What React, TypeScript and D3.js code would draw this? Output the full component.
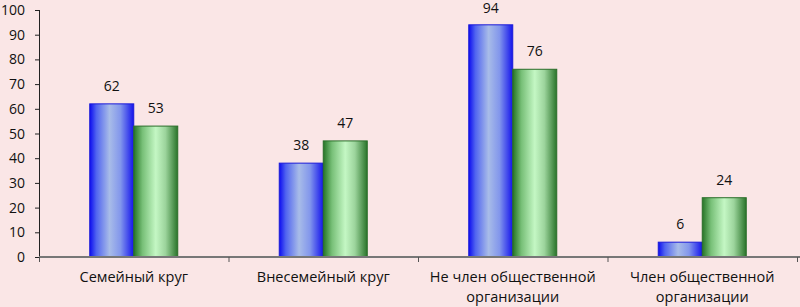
import React from "react";
import * as d3 from "d3";

const categories: string[][] = [
  ["Семейный круг"],
  ["Внесемейный круг"],
  ["Не член общественной", "организации"],
  ["Член общественной", "организации"],
];
const seriesA: number[] = [62, 38, 94, 6];
const seriesB: number[] = [53, 47, 76, 24];
const yTicks: number[] = [0, 10, 20, 30, 40, 50, 60, 70, 80, 90, 100];

const W = 800;
const H = 307;
const left = 39;
const right = 797;
const top = 10;
const bottom = 257;
const FONT = "'Open Sans', 'DejaVu Sans', sans-serif";
const FS = 14;

export default function App() {
  const idx = categories.map((_, i) => String(i));
  const x = d3.scaleBand<string>().domain(idx).range([left, right]).paddingInner(0).paddingOuter(0);
  const y = d3.scaleLinear().domain([0, 100]).range([bottom, top]);
  const barW = 44;
  const series = [
    { values: seriesA, grad: "gBlue", stroke: "#1a1ad8" },
    { values: seriesB, grad: "gGreen", stroke: "#2a6e2a" },
  ];
  return (
    <svg
      width={W}
      height={H}
      style={{ position: "absolute", left: 0, top: 0, display: "block" }}
    >
      <defs>
        <linearGradient id="gBlue" x1="0" x2="1" y1="0" y2="0">
          <stop offset="0" stopColor="#0c0cf0" />
          <stop offset="0.15" stopColor="#5064f0" />
          <stop offset="0.45" stopColor="#a8bce8" />
          <stop offset="0.7" stopColor="#8296ec" />
          <stop offset="1" stopColor="#1414ec" />
        </linearGradient>
        <linearGradient id="gGreen" x1="0" x2="1" y1="0" y2="0">
          <stop offset="0" stopColor="#267426" />
          <stop offset="0.2" stopColor="#78c078" />
          <stop offset="0.5" stopColor="#c4f7c4" />
          <stop offset="0.72" stopColor="#9cd49c" />
          <stop offset="1" stopColor="#2a742a" />
        </linearGradient>
      </defs>
      <rect x={0} y={0} width={W} height={H} fill="#fae6e6" />
      {/* y axis */}
      <line x1={left + 0.5} x2={left + 0.5} y1={top} y2={bottom + 5} stroke="#222" strokeWidth={1} />
      {yTicks.map((t) => (
        <g key={t}>
          <line x1={left - 4} x2={left} y1={y(t) + 0.5} y2={y(t) + 0.5} stroke="#222" />
          <text
            x={left - 14}
            y={y(t)}
            dy="0.36em"
            textAnchor="end"
            fontFamily={FONT}
            fontSize={FS}
            fill="#111"
          >
            {t}
          </text>
        </g>
      ))}
      {/* bars */}
      {categories.map((c, i) => {
        const cx = (x(String(i)) as number) + x.bandwidth() / 2;
        return (
          <g key={i}>
            {series.map((s, j) => {
              const bx = cx - barW + j * barW;
              const v = s.values[i];
              return (
                <g key={j}>
                  <rect
                    x={bx}
                    y={y(v)}
                    width={barW}
                    height={bottom - y(v)}
                    fill={`url(#${s.grad})`}
                    stroke={s.stroke}
                    strokeWidth={1}
                  />
                  <text
                    x={bx + barW / 2}
                    y={Math.max(12.5, y(v) - 13)}
                    textAnchor="middle"
                    fontFamily={FONT}
                    fontSize={FS}
                    fill="#111"
                  >
                    {v}
                  </text>
                </g>
              );
            })}
            {c.map((line, k) => (
              <text
                key={k}
                x={cx}
                y={282 + k * 20}
                textAnchor="middle"
                fontFamily={FONT}
                fontSize={14.5}
                fill="#111"
              >
                {line}
              </text>
            ))}
          </g>
        );
      })}
      {/* x axis */}
      <line x1={left} x2={right + 3} y1={bottom} y2={bottom} stroke="#777" strokeWidth={2} />
      {idx.map((d) => (
        <line
          key={d}
          x1={(x(d) as number) + 0.5}
          x2={(x(d) as number) + 0.5}
          y1={bottom}
          y2={bottom + 5}
          stroke="#555"
        />
      ))}
      <line x1={right + 0.5} x2={right + 0.5} y1={bottom} y2={bottom + 5} stroke="#555" />
    </svg>
  );
}
